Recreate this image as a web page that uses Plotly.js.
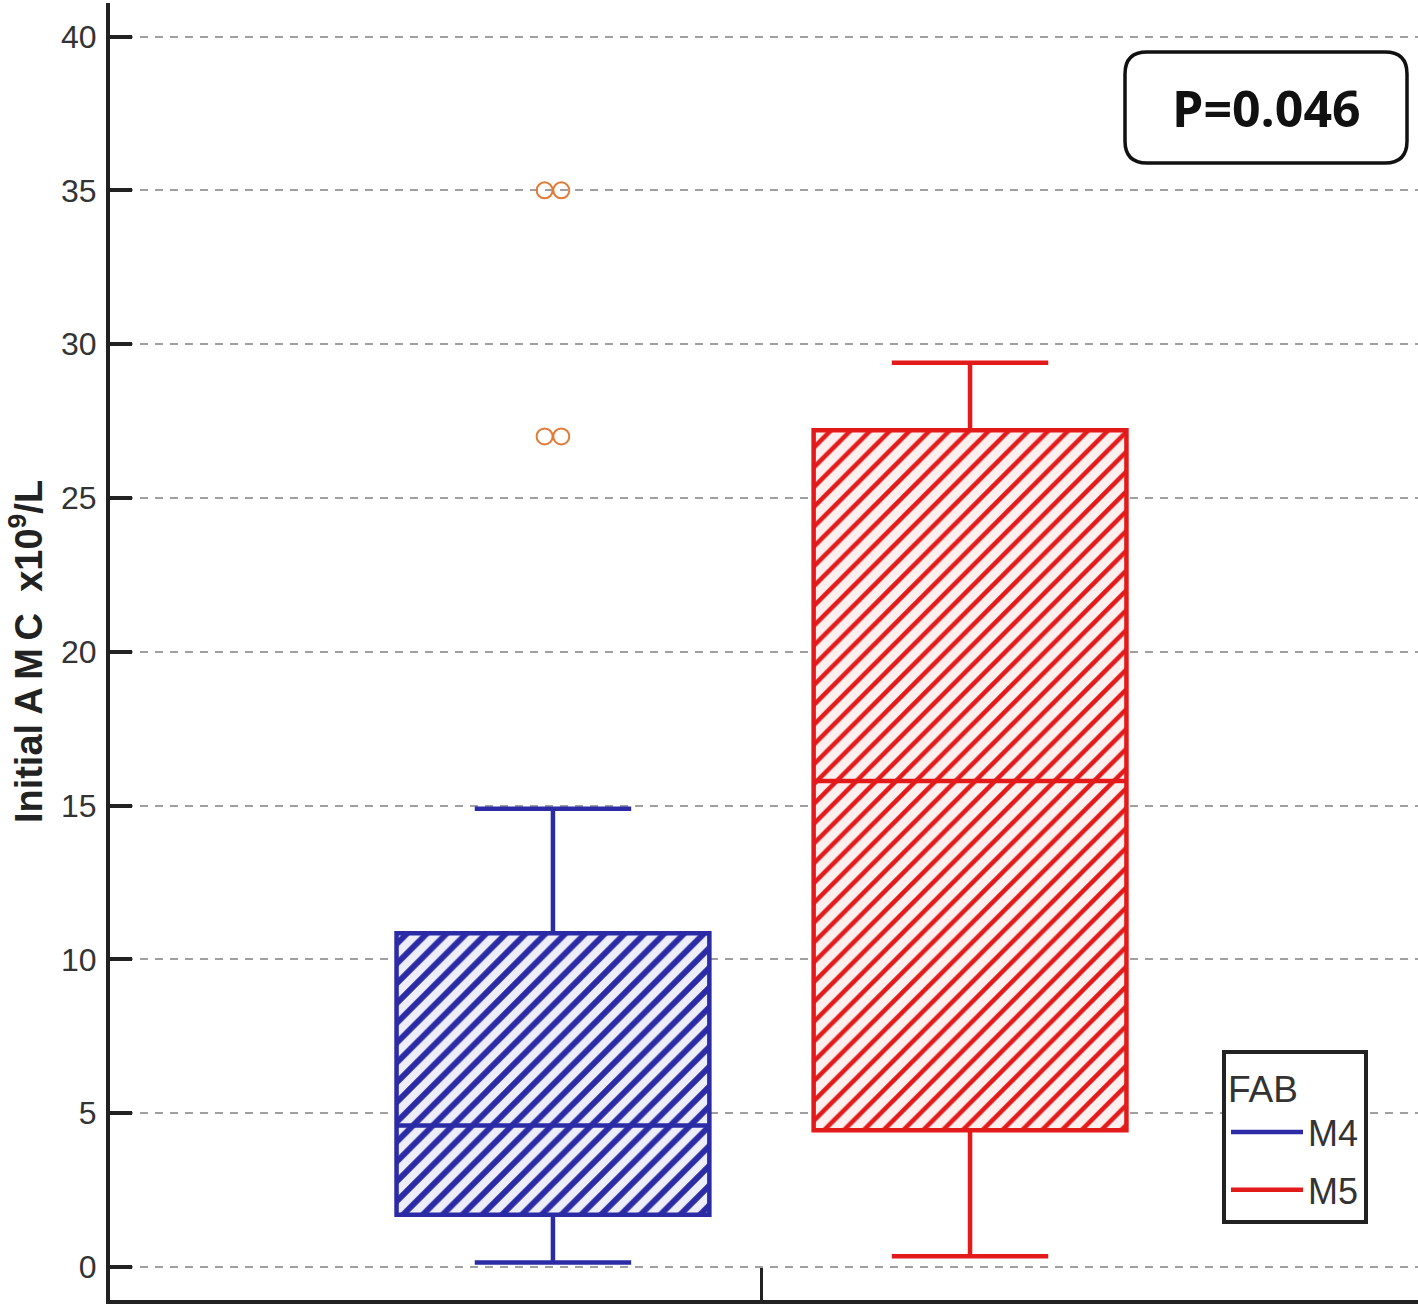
<!DOCTYPE html>
<html>
<head>
<meta charset="utf-8">
<script src="https://cdn.plot.ly/plotly-3.0.1.min.js"></script>
<style>
  html, body { margin: 0; padding: 0; background: #ffffff; }
  #chart { width: 1418px; height: 1305px; }
</style>
</head>
<body>
<div id="chart"></div>
<script>
// ---- data ----
const groups        = ['M4', 'M5'];
const lowerWhisker  = [0.15, 0.35];
const q1            = [1.70, 4.45];
const median        = [4.60, 15.80];
const q3            = [10.85, 27.20];
const upperWhisker  = [14.90, 29.40];
const outlierGroup  = ['M4', 'M4', 'M4', 'M4'];
const outlierValues = [35, 35, 27, 27];
const yTickValues   = [0, 5, 10, 15, 20, 25, 30, 35, 40];
const pValueText    = 'P=0.046';
const legendTitle   = 'FAB';
const yTitle        = 'Initial A\u2009M\u2009C&nbsp;&nbsp;x10<sup>9</sup>/L';

// ---- styles ----
const lineColors  = ['#2b2ba6', '#e31a1a'];
const hatchBg     = ['#eeeefb', '#fff0f0'];
const hatchSolid  = [0.42, 0.32];
const boxWidth    = 0.75;
const sans        = '"Liberation Sans", Arial, sans-serif';

const W = 1418, H = 1305;
const M = { l: 110, r: 0, t: 3, b: 5 };
const PW = W - M.l - M.r, PH = H - M.t - M.b;
const px2x = p => (p - M.l) / PW;
const px2y = p => (H - M.b - p) / PH;

const traces = [];

// hatched box bodies (bars from q1 to q3)
groups.forEach((g, i) => {
  traces.push({
    type: 'bar', x: [i], base: [q1[i]], y: [q3[i] - q1[i]], width: boxWidth,
    marker: {
      color: hatchBg[i],
      line: { width: 0 },
      pattern: { shape: '/', size: 14, solidity: hatchSolid[i], fgcolor: lineColors[i], bgcolor: hatchBg[i], fillmode: 'replace' }
    },
    showlegend: false, hoverinfo: 'skip'
  });
});

// box outlines, medians and whiskers
groups.forEach((g, i) => {
  traces.push({
    type: 'box', name: g, x: [i],
    q1: [q1[i]], median: [median[i]], q3: [q3[i]],
    lowerfence: [lowerWhisker[i]], upperfence: [upperWhisker[i]],
    width: boxWidth, whiskerwidth: 0.5,
    fillcolor: 'rgba(0,0,0,0)',
    line: { color: lineColors[i], width: 4.5 },
    boxpoints: false, showlegend: false
  });
});

// outliers, dodged sideways when values repeat
const seen = {};
const outX = outlierValues.map((v, k) => {
  const gi = groups.indexOf(outlierGroup[k]);
  const key = gi + '_' + v;
  const n = outlierValues.filter((w, j) => w === v && outlierGroup[j] === outlierGroup[k]).length;
  seen[key] = (seen[key] || 0);
  const idx = seen[key]++;
  const step = 0.04;
  return gi + (idx - (n - 1) / 2) * step;
});
traces.push({
  type: 'scatter', mode: 'markers', x: outX, y: outlierValues,
  marker: { symbol: 'circle-open', size: 16, color: '#e27b35', line: { width: 2, color: '#e27b35' } },
  showlegend: false, hoverinfo: 'y'
});

// legend entries (line symbols)
groups.forEach((g, i) => {
  traces.push({
    type: 'scatter', mode: 'lines', name: g, x: [null], y: [null], legendgroup: g,
    line: { color: lineColors[i], width: 4.5 }, showlegend: true
  });
});

// rounded box for the P value
function roundedRect(x0p, y0p, x1p, y1p, r) {
  const X = px2x, Y = px2y;
  return [
    'M', X(x0p + r), Y(y0p),
    'L', X(x1p - r), Y(y0p),
    'Q', X(x1p), Y(y0p), X(x1p), Y(y0p + r),
    'L', X(x1p), Y(y1p - r),
    'Q', X(x1p), Y(y1p), X(x1p - r), Y(y1p),
    'L', X(x0p + r), Y(y1p),
    'Q', X(x0p), Y(y1p), X(x0p), Y(y1p - r),
    'L', X(x0p), Y(y0p + r),
    'Q', X(x0p), Y(y0p), X(x0p + r), Y(y0p), 'Z'
  ].join(' ');
}

const layout = {
  width: W, height: H,
  margin: M,
  paper_bgcolor: '#ffffff', plot_bgcolor: '#ffffff',
  barmode: 'overlay', boxmode: 'overlay',
  showlegend: true,
  xaxis: {
    type: 'linear', range: [-1.062, 2.074],
    showline: true, linecolor: '#222', linewidth: 4, mirror: false,
    showgrid: false, zeroline: false,
    tickmode: 'array', tickvals: [0.5], ticks: 'inside', ticklen: 32, tickwidth: 3, tickcolor: '#222',
    showticklabels: false, fixedrange: true
  },
  yaxis: {
    range: [-1.07, 41.09],
    showline: true, linecolor: '#222', linewidth: 4,
    zeroline: false,
    tickmode: 'array', tickvals: yTickValues, ticktext: yTickValues.map(String),
    ticks: 'inside', ticklen: 22, tickwidth: 4, tickcolor: '#222',
    showgrid: true, gridcolor: '#a0a0a0', gridwidth: 2, griddash: '8px,7px',
    tickfont: { family: sans, size: 32, color: '#333' },
    ticklabelstandoff: 3,
    title: { text: yTitle, font: { family: sans, size: 38, color: '#222', weight: 'bold' }, standoff: 8 },
    fixedrange: true
  },
  legend: {
    x: px2x(1222), y: px2y(1050), xanchor: 'left', yanchor: 'top',
    bgcolor: '#ffffff', bordercolor: '#222', borderwidth: 4,
    font: { family: sans, size: 36, color: '#333' },
    title: { text: legendTitle, font: { family: sans, size: 37, color: '#333' } },
    traceorder: 'grouped', tracegroupgap: 8,
    itemwidth: 72
  },
  shapes: [{
    type: 'path', xref: 'paper', yref: 'paper',
    path: roundedRect(1125, 52, 1407, 163, 22),
    line: { color: '#111', width: 3.5 }, fillcolor: 'rgba(255,255,255,0)'
  }],
  annotations: [{
    xref: 'paper', yref: 'paper', x: px2x(1266), y: px2y(108),
    xanchor: 'center', yanchor: 'middle', showarrow: false,
    text: '<b>' + pValueText + '</b>',
    font: { family: '"Open Sans", "Liberation Sans", sans-serif', size: 50, color: '#111' }
  }]
};

Plotly.newPlot('chart', traces, layout, { displayModeBar: false, staticPlot: true });
</script>
</body>
</html>
